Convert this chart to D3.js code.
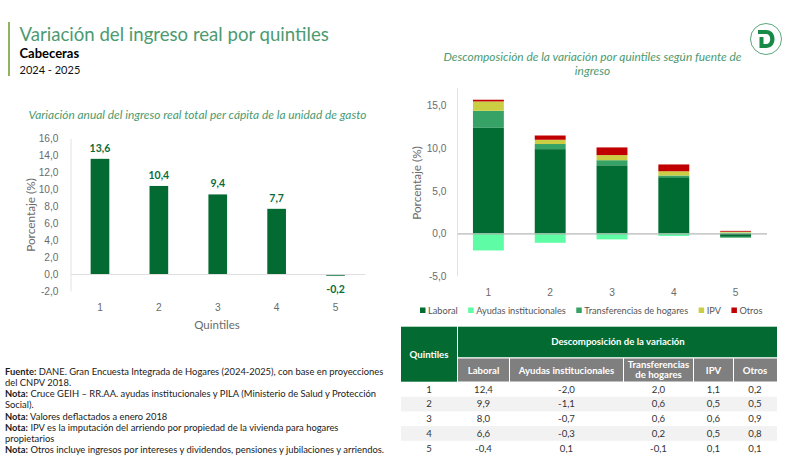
<!DOCTYPE html>
<html>
<head>
<meta charset="utf-8">
<script src="https://cdn.jsdelivr.net/npm/d3@7"></script>
<style>
  html, body { margin: 0; padding: 0; background: #fff; }
  svg { display: block; font-family: Lato, "Open Sans", sans-serif; }
</style>
</head>
<body>
<div id="chart"></div>
<script>
const quintiles = ["1", "2", "3", "4", "5"];
const variacionTotal = [13.6, 10.4, 9.4, 7.7, -0.2];

const fuentes = ["Laboral", "Ayudas institucionales", "Transferencias de hogares", "IPV", "Otros"];
const laboral = [12.4, 9.9, 8.0, 6.6, -0.4];
const ayudas = [-2.0, -1.1, -0.7, -0.3, 0.1];
const transferencias = [2.0, 0.6, 0.6, 0.2, -0.1];
const ipv = [1.1, 0.5, 0.6, 0.5, 0.1];
const otros = [0.2, 0.5, 0.9, 0.8, 0.1];
const fuenteColores = ["#016d32", "#5ffca6", "#36a266", "#cbce42", "#c00000"];

const ticksIzq = [-2, 0, 2, 4, 6, 8, 10, 12, 14, 16];
const ticksDer = [-5, 0, 5, 10, 15];

const notas = [
  ["Fuente:", " DANE. Gran Encuesta Integrada de Hogares (2024-2025), con base en proyecciones"],
  ["", "del CNPV 2018."],
  ["Nota:", " Cruce GEIH – RR.AA. ayudas institucionales y PILA (Ministerio de Salud y Protección"],
  ["", "Social)."],
  ["Nota:", " Valores deflactados a enero 2018"],
  ["Nota:", " IPV es la imputación del arriendo por propiedad de la vivienda para hogares"],
  ["", "propietarios"],
  ["Nota:", " Otros incluye ingresos por intereses y dividendos, pensiones y jubilaciones y arriendos."]
];

const fmt = v => d3.format(".1f")(v).replace(".", ",").replace("−", "-");
const gris = "#6b6b6b";
const verdeTitulo = "#4c9a70";

const svg = d3.select("#chart").append("svg")
  .attr("width", 800)
  .attr("height", 464);

// encabezado
svg.append("rect").attr("x", 8).attr("y", 22).attr("width", 2).attr("height", 54).attr("fill", "#8fb65f");
svg.append("text").attr("x", 19.5).attr("y", 41).attr("font-size", 18.6).attr("fill", verdeTitulo)
  .text("Variación del ingreso real por quintiles");
svg.append("text").attr("x", 19.5).attr("y", 58).attr("font-size", 13).attr("font-weight", 700).attr("fill", "#000")
  .text("Cabeceras");
svg.append("text").attr("x", 19.5).attr("y", 73.5).attr("font-size", 11).attr("fill", "#111")
  .text("2024 - 2025");

// logo
const logo = svg.append("g").attr("transform", "translate(766,39)");
logo.append("circle").attr("r", 15.5).attr("fill", "#fff").attr("stroke", "#2f8f5b").attr("stroke-width", 0.8);
logo.append("path").attr("fill", "#178a48")
  .attr("d", "M-8,-9 H0 C6,-9 8.5,-4.5 8.5,0 C8.5,5 5.5,9 0,9 H-6.5 V-2 H-2.5 V5 H0 C2.8,5 4.2,3 4.2,0 C4.2,-3 2.8,-5 0,-5 H-8 Z");

// grafico izquierdo
svg.append("text").attr("x", 197.5).attr("y", 119).attr("text-anchor", "middle")
  .attr("font-size", 11.9).attr("font-style", "italic").attr("fill", verdeTitulo)
  .text("Variación anual del ingreso real total per cápita de la unidad de gasto");

const xIzq = d3.scaleBand().domain(quintiles).range([70.5, 365]).paddingInner(0.683).paddingOuter(0.342);
const yIzq = d3.scaleLinear().domain([-2, 16]).range([291, 138.5]);

const ejeY1 = svg.append("g").attr("transform", "translate(70.5,0)")
  .call(d3.axisLeft(yIzq).tickValues(ticksIzq).tickFormat(fmt).tickSize(0).tickPadding(12));
ejeY1.select(".domain").attr("stroke", "#e2e2e2");
ejeY1.selectAll("text").attr("font-size", 10.2).attr("font-family", "inherit").attr("fill", gris);

svg.selectAll(".barra").data(variacionTotal).join("rect")
  .attr("class", "barra")
  .attr("x", (d, i) => xIzq(quintiles[i]))
  .attr("width", xIzq.bandwidth())
  .attr("y", d => yIzq(Math.max(d, 0)))
  .attr("height", d => Math.abs(yIzq(d) - yIzq(0)))
  .attr("fill", "#036b31");

const ejeX1 = svg.append("g").attr("transform", `translate(0,${yIzq(0)})`)
  .call(d3.axisBottom(xIzq).tickSize(0).tickPadding(0));
ejeX1.select(".domain").attr("stroke", "#dedede");
ejeX1.selectAll("text").attr("font-size", 10.2).attr("font-family", "inherit").attr("fill", gris)
  .attr("y", 36.5).attr("dy", 0);

svg.selectAll(".etq").data(variacionTotal).join("text")
  .attr("class", "etq")
  .attr("x", (d, i) => xIzq(quintiles[i]) + xIzq.bandwidth() / 2)
  .attr("y", d => d < 0 ? yIzq(d) + 17 : yIzq(d) - 7)
  .attr("text-anchor", "middle").attr("font-size", 10.5).attr("font-weight", 700).attr("fill", "#0a6b3a")
  .text(fmt);

svg.append("text").attr("transform", "translate(35,215) rotate(-90)").attr("text-anchor", "middle")
  .attr("font-size", 11.8).attr("fill", gris).text("Porcentaje (%)");
svg.append("text").attr("x", 217).attr("y", 329).attr("text-anchor", "middle")
  .attr("font-size", 11.5).attr("fill", gris).text("Quintiles");

// grafico derecho
const titDer = svg.append("text").attr("text-anchor", "middle")
  .attr("font-size", 11.9).attr("font-style", "italic").attr("fill", verdeTitulo);
titDer.append("tspan").attr("x", 592.5).attr("y", 61).text("Descomposición de la variación por quintiles según fuente de");
titDer.append("tspan").attr("x", 592.5).attr("y", 75).text("ingreso");

const filas = quintiles.map((q, i) => ({
  q,
  "Laboral": laboral[i],
  "Ayudas institucionales": ayudas[i],
  "Transferencias de hogares": transferencias[i],
  "IPV": ipv[i],
  "Otros": otros[i]
}));
const series = d3.stack().keys(fuentes).offset(d3.stackOffsetDiverging)(filas);

const xDer = d3.scaleBand().domain(quintiles).range([457.5, 766.5]).paddingInner(0.5).paddingOuter(0.25);
const yDer = d3.scaleLinear().domain([-5, 15]).range([276, 105.7]);
const color = d3.scaleOrdinal().domain(fuentes).range(fuenteColores);

const ejeY2 = svg.append("g").attr("transform", "translate(457.5,0)")
  .call(d3.axisLeft(yDer).tickValues(ticksDer).tickFormat(fmt).tickSize(0).tickPadding(11));
ejeY2.select(".domain").attr("d", `M0,${yDer(-5)}V88`).attr("stroke", "#e2e2e2");
ejeY2.selectAll("text").attr("font-size", 10.2).attr("font-family", "inherit").attr("fill", gris);

svg.append("g").selectAll("g").data(series).join("g")
  .attr("fill", d => color(d.key))
  .selectAll("rect").data(d => d).join("rect")
  .attr("x", d => xDer(d.data.q))
  .attr("width", xDer.bandwidth())
  .attr("y", d => yDer(d[1]))
  .attr("height", d => yDer(d[0]) - yDer(d[1]));

const ejeX2 = svg.append("g").attr("transform", `translate(0,${yDer(0)})`)
  .call(d3.axisBottom(xDer).tickSize(0).tickPadding(0));
ejeX2.select(".domain").attr("stroke", "#a6a6a6");
ejeX2.selectAll("text").attr("font-size", 10.2).attr("font-family", "inherit").attr("fill", gris)
  .attr("y", 63).attr("dy", 0);

svg.append("text").attr("transform", "translate(421,183) rotate(-90)").attr("text-anchor", "middle")
  .attr("font-size", 11.8).attr("fill", gris).text("Porcentaje (%)");

// leyenda
let lx = 420;
fuentes.forEach(f => {
  svg.append("rect").attr("x", lx).attr("y", 307.5).attr("width", 5.5).attr("height", 5.5).attr("fill", color(f));
  const t = svg.append("text").attr("x", lx + 8).attr("y", 314).attr("font-size", 9.2).attr("fill", "#555").text(f);
  lx += 8 + t.node().getComputedTextLength() + 10.5;
});

// tabla
const colX = [401, 458, 510, 624, 694, 734, 777];
const cabeceras = ["Laboral", "Ayudas institucionales", ["Transferencias", "de hogares"], "IPV", "Otros"];
const tabla = svg.append("g");
const verdeTabla = "#036b31";

tabla.append("rect").attr("x", colX[0]).attr("y", 326.7).attr("width", colX[1] - colX[0] - 1).attr("height", 55).attr("fill", verdeTabla);
tabla.append("rect").attr("x", colX[1]).attr("y", 326.7).attr("width", colX[6] - colX[1]).attr("height", 30.5).attr("fill", verdeTabla);
tabla.append("text").attr("x", (colX[0] + colX[1]) / 2 - 0.5).attr("y", 358).attr("text-anchor", "middle")
  .attr("font-size", 9.6).attr("font-weight", 700).attr("fill", "#fff").text("Quintiles");
tabla.append("text").attr("x", 618).attr("y", 345).attr("text-anchor", "middle")
  .attr("font-size", 9.6).attr("font-weight", 700).attr("fill", "#fff").text("Descomposición de la variación");

cabeceras.forEach((c, i) => {
  const x0 = colX[i + 1], x1 = colX[i + 2];
  tabla.append("rect").attr("x", x0).attr("y", 358.5).attr("width", x1 - x0 - (i < 4 ? 1 : 0)).attr("height", 23).attr("fill", "#7f7f7f");
  const lineas = Array.isArray(c) ? c : [c];
  lineas.forEach((l, j) => {
    tabla.append("text").attr("x", (x0 + x1) / 2 - 0.5)
      .attr("y", lineas.length > 1 ? 368 + j * 10 : 373.5)
      .attr("text-anchor", "middle").attr("font-size", 9.6).attr("font-weight", 700).attr("fill", "#fff").text(l);
  });
});

const valores = [laboral, ayudas, transferencias, ipv, otros];
const yFila = d3.scaleBand().domain(quintiles).range([382, 455.5]);
quintiles.forEach((q, i) => {
  if (i % 2 === 1) {
    tabla.append("rect").attr("x", colX[0]).attr("y", yFila(q)).attr("width", colX[6] - colX[0]).attr("height", yFila.bandwidth()).attr("fill", "#f2f2f2");
  }
  const yt = yFila(q) + yFila.bandwidth() / 2 + 3.4;
  tabla.append("text").attr("x", (colX[0] + colX[1]) / 2 - 0.5).attr("y", yt).attr("text-anchor", "middle")
    .attr("font-size", 9.6).attr("fill", "#333").text(q);
  valores.forEach((v, k) => {
    tabla.append("text").attr("x", (colX[k + 1] + colX[k + 2]) / 2 - 0.5).attr("y", yt).attr("text-anchor", "middle")
      .attr("font-size", 9.6).attr("fill", "#333").text(fmt(v[i]));
  });
});

// notas
const yNota = d3.scalePoint().domain(d3.range(notas.length)).range([375, 453]);
notas.forEach((n, i) => {
  const t = svg.append("text").attr("x", 5).attr("y", yNota(i)).attr("font-size", 9.4).attr("fill", "#1a1a1a");
  t.append("tspan").attr("font-weight", 700).text(n[0]);
  t.append("tspan").text(n[1]);
});
</script>
</body>
</html>
